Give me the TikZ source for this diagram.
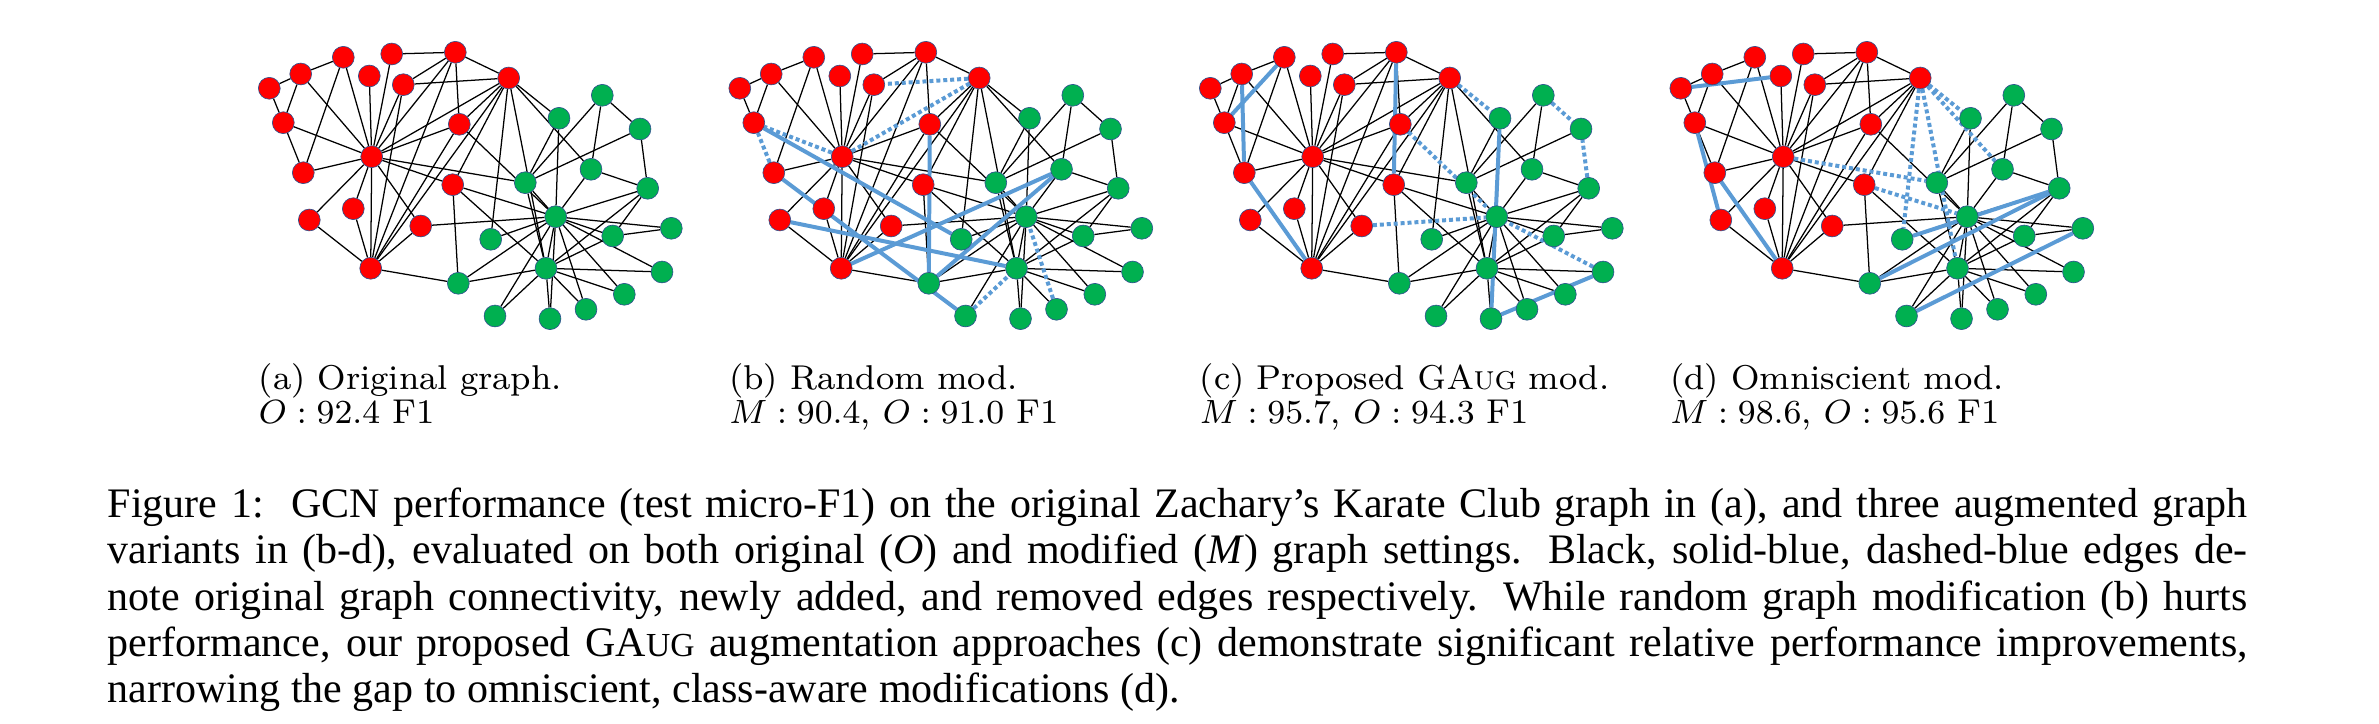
\documentclass[tikz,border=0pt]{standalone}
\usepackage{fontspec}
\newfontfamily\capfont{Liberation Serif}
\definecolor{hired}{RGB}{255,0,0}
\definecolor{offgreen}{RGB}{0,176,80}
\definecolor{ringblue}{RGB}{47,82,143}
\definecolor{modblue}{RGB}{91,155,213}
\pgfdeclarelayer{edges}
\pgfsetlayers{edges,main}
\tikzset{
	vert/.style={circle, draw=ringblue, line width=0.15pt, minimum size=5.2pt, inner sep=0pt},
	redvert/.style={vert, fill=hired},
	greenvert/.style={vert, fill=offgreen},
	orig/.style={line width=0.3pt, black},
	added/.style={line width=0.95pt, modblue},
	removed/.style={line width=0.95pt, modblue, dash pattern=on 0.95pt off 0.7pt},
	subcap/.style={anchor=base west, inner sep=0pt, font=\fontsize{8.2}{9}\selectfont},
	figcap/.style={anchor=north west, inner sep=0pt, text width=509.3pt, align=justify,
		font=\capfont\fontsize{10}{11}\selectfont}
}
\newcommand{\GAugCap}{GA{\fontsize{8}{11}\selectfont UG}}
\newcommand{\RedNodes}{1/371.7/156.7, 2/370.7/268.3, 3/508.7/78, 4/455.3/52.3,
	5/303.3/172.7, 6/300.7/74, 7/283.3/122.7, 8/403.3/84.7, 9/452.7/184.7,
	11/343.3/57.3, 12/369.3/76, 13/391.7/54, 14/459.3/124.3, 17/269.3/88.3,
	18/353.3/208.7, 20/420.7/226, 22/309.3/220}
\newcommand{\GreenNodes}{10/490.7/239.3, 15/662/272, 16/624.3/294.3, 19/586/309.3,
	21/495/316, 23/550/318.7, 24/647.7/188.3, 25/602.3/95.3, 26/640/129,
	27/671.3/228.3, 28/591/169.3, 29/559/118.3, 30/612.7/236, 31/458.3/283.3,
	32/525.3/182.7, 33/546/268.3, 34/555.7/216.7}
\newcommand{\KarateEdges}{1/2, 1/3, 1/4, 1/5, 1/6, 1/7, 1/8, 1/9, 1/11, 1/12, 1/13,
	1/14, 1/18, 1/20, 1/22, 1/32, 2/3, 2/4, 2/8, 2/14, 2/18, 2/20, 2/22, 2/31,
	3/4, 3/8, 3/9, 3/10, 3/14, 3/28, 3/29, 3/33, 4/8, 4/13, 4/14, 5/7, 5/11,
	6/7, 6/11, 6/17, 7/17, 9/31, 9/33, 9/34, 10/34, 14/34, 15/33, 15/34,
	16/33, 16/34, 19/33, 19/34, 20/34, 21/33, 21/34, 23/33, 23/34, 24/26,
	24/28, 24/30, 24/33, 24/34, 25/26, 25/28, 25/32, 26/32, 27/30, 27/34,
	28/34, 29/32, 29/34, 30/33, 30/34, 31/33, 31/34, 32/33, 32/34, 33/34}
% #1 prefix of the node names, #2 added edges, #3 removed edges
\newcommand{\Karate}[3]{
	\if\relax\detokenize{#3}\relax\else
	\foreach \u/\v in {#3} {\expandafter\xdef\csname rm-#1-\u-\v\endcsname{}}
	\fi
	\foreach \n/\x/\y in \RedNodes {\node[redvert] (#1\n) at (\x,\y) {};}
	\foreach \n/\x/\y in \GreenNodes {\node[greenvert] (#1\n) at (\x,\y) {};}
	\begin{pgfonlayer}{edges}
		\foreach \u/\v in \KarateEdges {
			\ifcsname rm-#1-\u-\v\endcsname\else\draw[orig] (#1\u) -- (#1\v);\fi
		}
		\if\relax\detokenize{#2}\relax\else
		\foreach \u/\v in {#2} {\draw[added] (#1\u) -- (#1\v);}
		\foreach \u/\v in {#3} {\draw[removed] (#1\u) -- (#1\v);}
		\fi
	\end{pgfonlayer}
}

\begin{document}
\begin{tikzpicture}[x=0.238pt, y=-0.238pt]
		\useasboundingbox (0,0) rectangle (2379,724);
		\Karate{a}{}{}
		\begin{scope}[shift={(470.5,0)}]
			\Karate{b}{7/10, 5/21, 22/33, 2/28, 14/31, 28/31}{1/3, 1/7, 3/8, 5/7, 19/34, 21/33}
		\end{scope}
		\begin{scope}[shift={(941,0)}]
			\Karate{c}{7/11, 5/6, 2/5, 4/9, 23/29, 15/23}{3/29, 14/34, 20/34, 25/26, 24/26, 15/34}
		\end{scope}
		\begin{scope}[shift={(1411.5,0)}]
			\Karate{d}{12/17, 7/22, 2/5, 10/24, 24/31, 21/27}{3/29, 3/28, 3/10, 3/33, 1/32, 9/34}
		\end{scope}
		% subfigure captions
		\node[subcap] (capa) at (258,390) {(a) Original graph.};
		\node[subcap] (scorea) at (258,424) {$O: 92.4$ F1};
		\node[subcap] (capb) at (728.5,390) {(b) Random mod.};
		\node[subcap] (scoreb) at (728.5,424) {$M: 90.4$, $O: 91.0$ F1};
		\node[subcap] (capc) at (1199,390) {(c) Proposed \textsc{GAug} mod.};
		\node[subcap] (scorec) at (1199,424) {$M: 95.7$, $O: 94.3$ F1};
		\node[subcap] (capd) at (1669.5,390) {(d) Omniscient mod.};
		\node[subcap] (scored) at (1669.5,424) {$M: 98.6$, $O: 95.6$ F1};
		\node[figcap] (caption) at (107,484.4) {\noindent\strut Figure 1:\ \ GCN performance
			(test micro-F1) on the original Zachary’s Karate Club graph in (a), and three
			augmented graph\linebreak variants in (b-d), evaluated on both original
			(\textit{O}) and modified (\textit{M}) graph settings. Black, solid-blue,
			dashed-blue edges de-\linebreak note original graph connectivity, newly added,
			and removed edges respectively. While random graph modification (b)
			hurts\linebreak performance, our proposed \GAugCap{} augmentation approaches (c)
			demonstrate significant relative performance improvements,\linebreak narrowing
			the gap to omniscient, class-aware modifications (d).};
	\end{tikzpicture}
\end{document}
